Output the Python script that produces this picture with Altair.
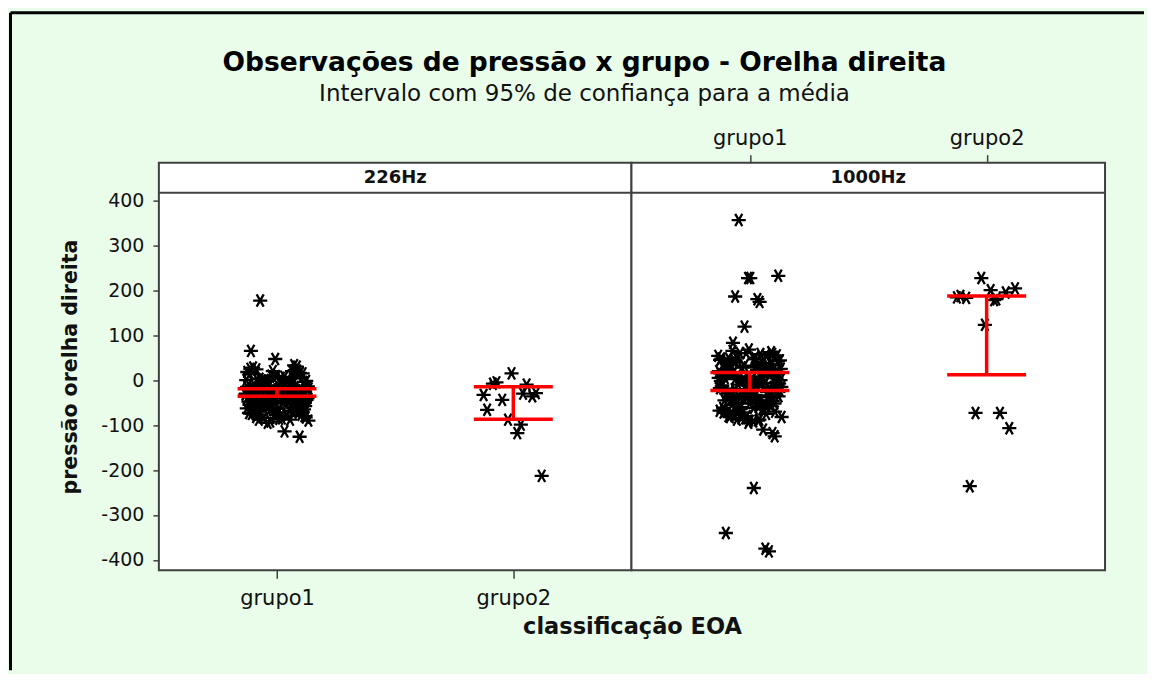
import altair as alt
import pandas as pd

# ---------------- data ----------------
panel_labels = ["226Hz", "1000Hz"]
group_labels = ["grupo1", "grupo2"]

p226_grupo1 = [-114, 177, -126, 47, 65,
               -29, -12, -45, 5, -60, -22, -35, 18, -80, -3,
               -51, -27, 28, -70, -15, -40, -8, -88, 12, -33,
               -55, -19, 0, -65, -24, -48, 22, -92, -30, -10,
               -58, -38, 8, -75, -17, -43, -2, -85, -26, 30,
               -62, -36, -6, -52, 15, -72, -21, -46, -13, -90,
               -31, 3, -57, -39, 25, -68, -16, -49, -9, -82,
               -28, 10, -63, -34, -1, -77, -23, -54, 20, -95,
               -37, -11, -59, -42, 6, -73, -18, -47, -4, -86,
               -25, 33, -66, -32, -7, -53, 16, -78, -20, -44,
               -14, -83, -27, 2, -61,
               -30, -18, -42, -8, -55, -25, -66, 4, -38, -14,
               -50, -22, -72, -34, 14, -46, -5, -80, -28, -60,
               -16, -40, 0, -52, -24, -68, 9, -36, -12, -57,
               -44, -20, -76, -32, 20, -48, -2, -84, -26, -64,
               -10, -39, -54, -19, 7, -70, -35, -47, -23, -88,
               -3, -58, -41, 24, -65, -29, -15, -79, -50, -33]
p226_grupo2 = [-99, -5, -29, 15, -66, -10, -44, -213, -118, -8, -36, -88, -33, -30]
p1000_grupo1 = [180, 83, -118, 227, 10, -110, 356, 232, -240, -25, -381, 119, 45, 174, 186, -125, 227, -340, -375,
                -60, 0, 30, -40, 62, -80, -12,
                20, -50, 55, -5, -70, 35, -30, 5, -90, 40,
                -18, 68, -45, 15, -65, -8, 50, -35, 25, -85,
                -2, 58, -55, 12, -22, 42, -75, 28, -15, -48,
                65, -28, 8, -62, 38, -10, 18, -92, 48, -38,
                2, -68, 32, -20, 52, -52, 22, -6, -78, 44,
                -33, 14, -58, 60, -14, 26, -88, 4, -42, 36,
                -26, -72, 54, -3, 16, -46, -95, 24, -64, 6,
                -36, 46, -82, -16,
                -20, 15, -45, 40, -70, 0, -30, 55, -85, 25,
                -10, -55, 35, -35, 10, -65, 50, -25, -5, -80,
                30, -40, 20, -60, 45, -15, -90, 5, -50, 60,
                -22, 28, -75, 12, -38, 48, -8, -68, 18, -28,
                38, -58, -2, -82, 22, -44, 58, -12, -72, 8,
                -34, 42, -62, 16, -48, 32, -18, -88, 2, -52]
p1000_grupo2 = [178, -236, -107, 123, 187, -73, -73, 204, 200, 183, 195, 227, 184, 180]

ci_panel = ["226Hz", "226Hz", "1000Hz", "1000Hz"]
ci_group = ["grupo1", "grupo2", "grupo1", "grupo2"]
ci_low = [-36, -87, -23, 12]
ci_high = [-19, -15, 17, 187]

y_tick_values = [-400, -300, -200, -100, 0, 100, 200, 300, 400]

title_text = "Observações de pressão x grupo - Orelha direita"
subtitle_text = "Intervalo com 95% de confiança para a média"
y_title = "pressão orelha direita"
x_title = "classificação EOA"

rows = []
for panel, grp, vals in [("226Hz", "grupo1", p226_grupo1), ("226Hz", "grupo2", p226_grupo2),
                         ("1000Hz", "grupo1", p1000_grupo1), ("1000Hz", "grupo2", p1000_grupo2)]:
    for v in vals:
        rows.append({"freq": panel, "grupo": grp, "pressao": v})
pts = pd.DataFrame(rows)
ci = pd.DataFrame({"freq": ci_panel, "grupo": ci_group, "lo": ci_low, "hi": ci_high})
one = pd.DataFrame({"k": [0]})

# ---------------- styling / layout ----------------
FONT = "DejaVu Sans"
FRAME = "#404040"
RED = "#ff0000"
W_LEFT, W_RIGHT = 473, 474
PLOT_H, STRIP_H = 378, 30
H = PLOT_H + STRIP_H
Y_BOTTOM, Y_PLOT_TOP = -423, 417
Y_TOP = Y_PLOT_TOP + STRIP_H * (Y_PLOT_TOP - Y_BOTTOM) / PLOT_H
Y_STRIP_MID = Y_PLOT_TOP + (Y_TOP - Y_PLOT_TOP) / 2

yscale = alt.Scale(domain=[Y_BOTTOM, Y_TOP], nice=False, zero=False)
xscale = alt.Scale(domain=[0, 2], nice=False, zero=False)
xpos_expr = "(datum.grupo == 'grupo1' ? 0.5 : 1.5)"
label_expr = "datum.value < 1 ? 'grupo1' : 'grupo2'"
y_label_expr = "datum.value < 0 ? '-' + format(-datum.value, 'd') : format(datum.value, 'd')"
ASTERISK = "M-1,0L1,0M-0.5,-0.866L0.5,0.866M-0.5,0.866L0.5,-0.866"

y_axis_left = alt.Axis(values=y_tick_values, labelExpr=y_label_expr, domain=False, grid=False, tickSize=6,
                       labelPadding=9, labelFontSize=19, title=y_title, titleFontSize=20.5,
                       titleFontWeight="bold", titlePadding=20)
x_axis_bottom = alt.Axis(orient="bottom", values=[0.5, 1.5], labelExpr=label_expr, domain=False, grid=False,
                         tickSize=8, labelPadding=9, labelFontSize=21, title=x_title, titleFontSize=22.5,
                         titleFontWeight="bold", titleX=(W_LEFT + W_RIGHT) / 2, titleAlign="center",
                         titlePadding=7)
x_axis_top = alt.Axis(orient="top", values=[0.5, 1.5], labelExpr=label_expr, domain=False, grid=False,
                      tickSize=8, labelPadding=6, labelFontSize=21, title=None)


def make_panel(freq, width, xaxis, yaxis, decorations=()):
    points = (alt.Chart(pts)
              .transform_filter(alt.datum.freq == freq)
              .transform_window(rn="row_number()", groupby=["grupo"])
              .transform_calculate(xp=f"{xpos_expr} + ((datum.rn * 0.6180339887) % 1 - 0.5) * 0.27")
              .mark_point(shape=ASTERISK, filled=False, size=200, strokeWidth=2.3, color="black", opacity=1)
              .encode(x=alt.X("xp:Q", scale=xscale, axis=xaxis),
                      y=alt.Y("pressao:Q", scale=yscale, axis=yaxis)))
    ci_base = alt.Chart(ci).transform_filter(alt.datum.freq == freq).transform_calculate(xp=xpos_expr)
    ci_rule = ci_base.mark_rule(color=RED, strokeWidth=3.5).encode(
        x=alt.X("xp:Q", scale=xscale, axis=xaxis),
        y=alt.Y("lo:Q", scale=yscale, axis=yaxis), y2="hi:Q")
    ci_lo = ci_base.mark_tick(orient="horizontal", size=79, thickness=3.5, color=RED, opacity=1).encode(
        x=alt.X("xp:Q", scale=xscale, axis=xaxis), y=alt.Y("lo:Q", scale=yscale, axis=yaxis))
    ci_hi = ci_base.mark_tick(orient="horizontal", size=79, thickness=3.5, color=RED, opacity=1).encode(
        x=alt.X("xp:Q", scale=xscale, axis=xaxis), y=alt.Y("hi:Q", scale=yscale, axis=yaxis))
    sep = alt.Chart(one).mark_rule(color=FRAME, strokeWidth=2).encode(
        y=alt.YDatum(Y_PLOT_TOP, type="quantitative", scale=yscale, axis=yaxis))
    strip_text = alt.Chart(one).mark_text(font=FONT, fontSize=18, fontWeight="bold", color="#111",
                                          baseline="middle", align="center").encode(
        x=alt.XDatum(1, type="quantitative", scale=xscale, axis=xaxis),
        y=alt.YDatum(Y_STRIP_MID, type="quantitative", scale=yscale, axis=yaxis),
        text=alt.value(freq))
    layers = list(decorations) + [points, ci_rule, ci_lo, ci_hi, sep, strip_text]
    return alt.layer(*layers).properties(width=width, height=H)


# outer frame of the figure (decorative, left and top edges)
frame_left = alt.Chart(one).mark_rule(color="black", strokeWidth=3).encode(
    x=alt.value(-148.5), y=alt.value(-150), y2=alt.value(508))
frame_top = alt.Chart(one).mark_rule(color="black", strokeWidth=3).encode(
    x=alt.value(-148.5), x2=alt.value(986), y=alt.value(-150))

left = make_panel("226Hz", W_LEFT, x_axis_bottom, y_axis_left, decorations=(frame_left, frame_top))
right = make_panel("1000Hz", W_RIGHT, x_axis_top, None).properties(
    title=alt.TitleParams(text=title_text, subtitle=subtitle_text, font=FONT, fontSize=26.5, fontWeight="bold",
                          color="black", subtitleFont=FONT, subtitleFontSize=23, subtitleColor="#111",
                          subtitlePadding=6, anchor="middle", frame="group", dx=-284, offset=22))

chart = (alt.hconcat(left, right, spacing=0, bounds="flush")
         .properties(padding={"left": 0, "top": 1.5, "right": 0, "bottom": 0})
         .configure(background="#eafcea", font=FONT)
         .configure_view(stroke=FRAME, strokeWidth=2, fill="white")
         .configure_axis(labelFont=FONT, titleFont=FONT, labelColor="#111", titleColor="#111",
                         tickColor=FRAME, tickWidth=1.5))

chart.save("out.html", embed_options={"renderer": "svg", "actions": False})
